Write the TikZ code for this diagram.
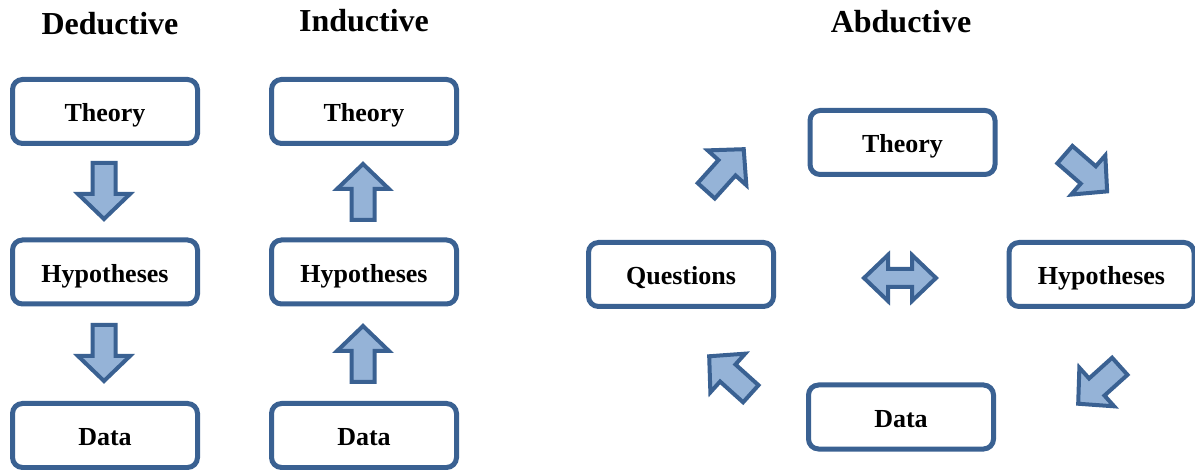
\documentclass[tikz,border=0pt]{standalone}
\usepackage{fontspec}
\setmainfont{Liberation Serif}
\begin{document}
\definecolor{edgeblue}{HTML}{3A6192}
\definecolor{fillblue}{HTML}{95B3D7}
\begin{tikzpicture}[x=1pt,y=-1pt,
  box/.style={draw=edgeblue, line width=5pt, rounded corners=10pt, fill=white,
    minimum width=185pt, minimum height=64pt, inner sep=0pt,
    text height=21pt, text depth=0pt,
    font=\bfseries\fontsize{26}{30}\selectfont},
  title/.style={anchor=base, font=\bfseries\fontsize{32}{36}\selectfont},
  blockstyle/.style={draw=edgeblue, fill=fillblue, line width=4pt, line join=miter},
  blockarrow/.pic={\draw[blockstyle] (-28,-11.5) -- (3,-11.5) -- (3,-26) -- (28,0)
      -- (3,26) -- (3,11.5) -- (-28,11.5) -- cycle;},
  twowayarrow/.pic={\draw[blockstyle] (-36,0) -- (-12,-23) -- (-12,-9) -- (12,-9)
      -- (12,-23) -- (36,0) -- (12,23) -- (12,9) -- (-12,9) -- (-12,23) -- cycle;}
]
\useasboundingbox (0,0) rectangle (1195,470);

% titles
\node[title] (tded) at (110,35) {Deductive};
\node[title] (tind) at (364,32) {Inductive};
\node[title] (tabd) at (901,33) {Abductive};

% deductive column
\node[box] (dtheory) at (105,111.5) {Theory};
\node[box] (dhyp) at (105,272) {Hypotheses};
\node[box] (ddata) at (105,435.5) {Data};
\pic (darrowa) at (104,191) [rotate=-90] {blockarrow};
\pic (darrowb) at (104,353) [rotate=-90] {blockarrow};

% inductive column
\node[box] (itheory) at (364,111.5) {Theory};
\node[box] (ihyp) at (364,272) {Hypotheses};
\node[box] (idata) at (364,435.5) {Data};
\pic (iarrowa) at (363,192) [rotate=90] {blockarrow};
\pic (iarrowb) at (363,354) [rotate=90] {blockarrow};

% abductive cycle
\node[box] (atheory) at (902.5,142.5) {Theory};
\node[box] (aquest) at (681,274.5) {Questions};
\node[box] (ahyp) at (1101.5,274.5) {Hypotheses};
\node[box] (adata) at (901,417) {Data};
\pic (aarrowa) at (725,170) [rotate=48] {blockarrow};
\pic (aarrowb) at (1086,173) [rotate=-41] {blockarrow};
\pic (aarrowc) at (1099,385) [rotate=-138] {blockarrow};
\pic (aarrowd) at (730,375) [rotate=138] {blockarrow};
\pic (acentre) at (900,278) {twowayarrow};
\end{tikzpicture}
\end{document}
